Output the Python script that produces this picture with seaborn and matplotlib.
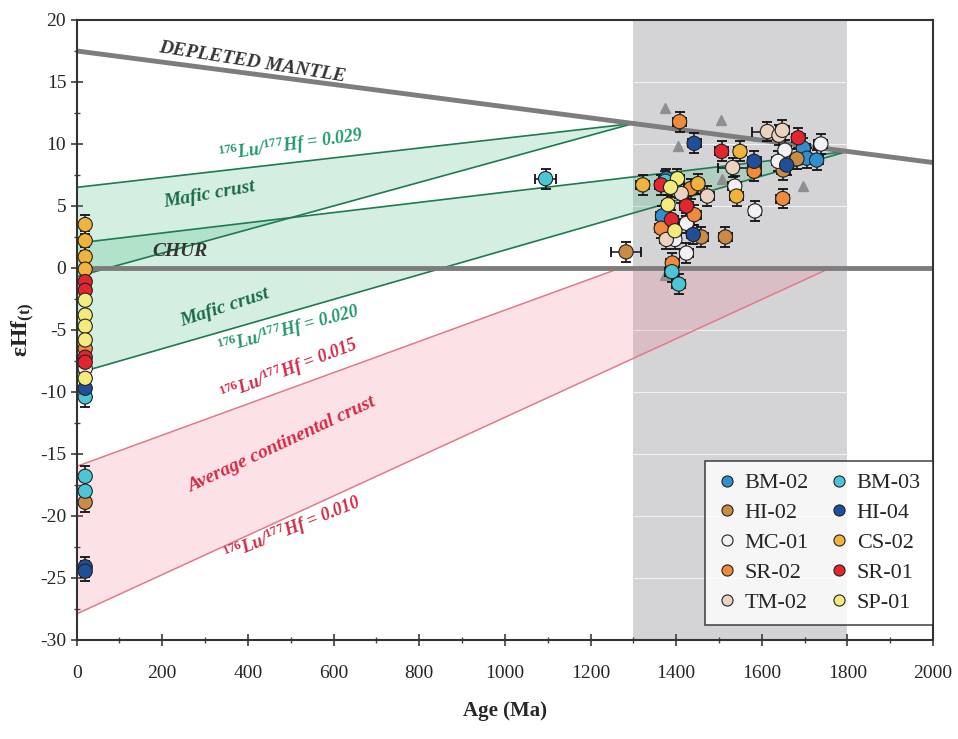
import numpy as np
import pandas as pd
import matplotlib
matplotlib.use("Agg")
import matplotlib.pyplot as plt
import seaborn as sns
from matplotlib.ticker import MultipleLocator

# zircon Lu-Hf data: (age Ma, eHf(t), age error Ma)
bm02 = [(1697, 9.65, 15), (1705, 8.85, 15), (1728, 8.7, 15), (1368, 4.2, 15), (1377, 7.2, 15)]
bm03 = [(1095, 7.2, 25), (1375, 7.0, 15), (1390, -0.3, 15), (1406, -1.3, 15),
        (20, -10.4, 2), (20, -16.8, 2), (20, -18.0, 2)]
hi02 = [(1682, 8.8, 15), (1650, 7.9, 15), (1459, 2.5, 15), (1515, 2.5, 15), (1283, 1.3, 35),
        (20, -18.9, 2)]
hi04 = [(1442, 10.05, 15), (1658, 8.3, 15), (1582, 8.6, 15), (1440, 2.7, 15),
        (20, -9.7, 2), (20, -24.1, 2), (20, -24.45, 2)]
mc01 = [(1738, 10.0, 15), (1654, 9.5, 15), (1638, 8.6, 15), (1537, 6.6, 15), (1584, 4.6, 15),
        (1424, 3.6, 15), (1397, 2.3, 15), (1424, 1.2, 15), (20, -8.1, 2)]
cs02 = [(1549, 9.4, 15), (1541, 5.8, 15), (1322, 6.7, 15), (1451, 6.8, 15),
        (20, 3.5, 2), (20, 2.2, 2), (20, 0.9, 2), (20, -0.1, 2)]
sr02 = [(1408, 11.8, 15), (1582, 7.8, 15), (1649, 5.6, 15), (1434, 6.4, 15), (1442, 4.3, 15),
        (1365, 3.2, 15), (1391, 0.4, 15), (20, -6.5, 2)]
sr01 = [(1685, 10.5, 15), (1506, 9.4, 15), (1365, 6.7, 15), (1424, 5.0, 15), (1389, 3.9, 15),
        (20, -1.1, 2), (20, -1.8, 2), (20, -7.2, 2), (20, -7.6, 2)]
tm02 = [(1613, 11.0, 35), (1640, 10.7, 15), (1648, 11.1, 15), (1532, 8.1, 35), (1412, 6.0, 15),
        (1473, 5.8, 15), (1377, 2.3, 15)]
sp01 = [(1403, 7.2, 15), (1387, 6.5, 15), (1381, 5.1, 15), (1397, 3.0, 15),
        (20, -2.6, 2), (20, -3.8, 2), (20, -4.7, 2), (20, -5.8, 2), (20, -8.9, 2)]
ehf_err = 0.8

# grey triangles (other data)
tri_age = [1373, 1504, 1404, 1506, 1696, 1373]
tri_ehf = [12.9, 11.9, 9.8, 7.2, 6.6, -0.6]

# reference evolution lines
dm_age = [0, 2000]
dm_ehf = [17.5, 8.5]
mafic_start = [1300, 1800]          # departure from depleted mantle
mafic_029_at0 = [6.5, 2.0]          # eHf at 0 Ma, Lu/Hf = 0.029
mafic_020_at0 = [-0.7, -8.5]        # eHf at 0 Ma, Lu/Hf = 0.020
cc_start = [1270, 1760]             # departure from CHUR (0.015, 0.010)
cc_at0 = [-16.0, -27.9]

samples = ["BM-02", "HI-02", "MC-01", "SR-02", "TM-02",
           "BM-03", "HI-04", "CS-02", "SR-01", "SP-01"]
sample_data = [bm02, hi02, mc01, sr02, tm02, bm03, hi04, cs02, sr01, sp01]
palette = {"BM-02": "#2f8fcf", "BM-03": "#4cc6d6", "HI-02": "#c98b45", "HI-04": "#1f4f9a",
           "MC-01": "#f5f0f5", "CS-02": "#f2b33d", "SR-02": "#f28a3c", "SR-01": "#e3252f",
           "TM-02": "#ead3c0", "SP-01": "#f3eb7c"}

rows = []
for name, pts in zip(samples, sample_data):
    for age, ehf, aerr in pts:
        rows.append({"Sample": name, "Age": age, "eHf": ehf, "AgeErr": aerr})
df = pd.DataFrame(rows)

sns.set_theme(style="ticks")
plt.rcParams['font.family'] = ['Liberation Serif', 'DejaVu Serif']
plt.rcParams['mathtext.fontset'] = 'custom'
plt.rcParams['mathtext.rm'] = 'Liberation Serif'
plt.rcParams['mathtext.bf'] = 'Liberation Serif:bold'
plt.rcParams['mathtext.it'] = 'Liberation Serif:italic'
plt.rcParams['mathtext.default'] = 'bf'
plt.rcParams['axes.unicode_minus'] = False

fig = plt.figure(figsize=(9.58, 7.39), dpi=100)
ax = fig.add_axes([0.080, 0.134, 0.894, 0.839])

# Grenville-age window
ax.axvspan(1300, 1800, color="#d4d4d6", zorder=0, lw=0)
ax.grid(axis="y", color="white", lw=0.8, alpha=0.7, zorder=0.5)

# depleted mantle values at departure ages
dm_fit = np.polyfit(dm_age, dm_ehf, 1)
green_line = "#1f7a50"
for t0, e029, e020 in zip(mafic_start, mafic_029_at0, mafic_020_at0):
    e_t0 = np.polyval(dm_fit, t0)
    ax.fill([0, t0, 0], [e029, e_t0, e020], color="#3cb878", alpha=0.22, lw=0, zorder=1)
    ax.plot([0, t0], [e029, e_t0], color=green_line, lw=1.2, zorder=2)
    ax.plot([0, t0], [e020, e_t0], color=green_line, lw=1.2, zorder=2)

ax.fill([0, cc_start[0], cc_start[1], 0], [cc_at0[0], 0, 0, cc_at0[1]],
        color="#f0607a", alpha=0.18, lw=0, zorder=1)
for t0, e0 in zip(cc_start, cc_at0):
    ax.plot([0, t0], [e0, 0], color="#e07b88", lw=1.1, zorder=2)

ax.plot(dm_age, dm_ehf, color="#7d7d7d", lw=3.5, zorder=2.5, solid_capstyle="butt")
ax.axhline(0, color="#7d7d7d", lw=3.5, zorder=2.5)

ax.plot(tri_age, tri_ehf, ls="none", marker="^", ms=7, color="#8f8f8f", zorder=2.8)

ax.errorbar(df["Age"], df["eHf"], xerr=df["AgeErr"], yerr=ehf_err, fmt="none",
            ecolor="#111111", elinewidth=1.1, capsize=3.5, capthick=1.3, zorder=3)
sns.scatterplot(data=df, x="Age", y="eHf", hue="Sample", hue_order=samples,
                palette=palette, s=105, edgecolor="#222222", linewidth=0.8,
                zorder=4, ax=ax, legend=True)

# annotations
txt = dict(fontweight="bold", style="italic", ha="center", va="center", zorder=5)
ax.text(410, 16.6, "DEPLETED MANTLE", fontsize=14, color="#333333", rotation=-9, **txt)
ax.text(500, 9.9, r"$^{176}$Lu/$^{177}$Hf = 0.029", fontsize=13, color="#219a6a", rotation=8, **txt)
ax.text(311, 5.9, "Mafic crust", fontsize=14, color="#1b6b45", rotation=10, **txt)
ax.text(241, 1.3, "CHUR", fontsize=14, color="#333333", rotation=0, **txt)
ax.text(345, -3.2, "Mafic crust", fontsize=14, color="#1b6b45", rotation=18, **txt)
ax.text(495, -5.0, r"$^{176}$Lu/$^{177}$Hf = 0.020", fontsize=13, color="#219a6a", rotation=15, **txt)
ax.text(495, -8.2, r"$^{176}$Lu/$^{177}$Hf = 0.015", fontsize=13, color="#d42a45", rotation=21, **txt)
ax.text(478, -14.3, "Average continental crust", fontsize=14, color="#d42a45", rotation=25, **txt)
ax.text(504, -21.0, r"$^{176}$Lu/$^{177}$Hf = 0.010", fontsize=13, color="#d42a45", rotation=22, **txt)

ax.set_xlim(0, 2000)
ax.set_ylim(-30, 20)
ax.xaxis.set_major_locator(MultipleLocator(200))
ax.xaxis.set_minor_locator(MultipleLocator(100))
ax.yaxis.set_major_locator(MultipleLocator(5))
ax.yaxis.set_minor_locator(MultipleLocator(2.5))
ax.tick_params(which="both", direction="inout", color="#444444", labelsize=14)
ax.tick_params(which="major", length=8)
ax.tick_params(which="minor", length=5)
ax.tick_params(axis="x", pad=14)
for sp in ax.spines.values():
    sp.set_color("#333333")
    sp.set_linewidth(1.5)
ax.set_xlabel("Age (Ma)", fontsize=15, fontweight="bold", labelpad=14)
ax.set_ylabel(r"εHf$_{(t)}$", fontsize=17, fontweight="bold", labelpad=2)

handles, labels = ax.get_legend_handles_labels()
for h in handles:
    h.set_markersize(8)
leg = ax.legend(handles, labels, ncol=2, loc="lower right", bbox_to_anchor=(1.0, 0.024),
                borderaxespad=0, fontsize=16, frameon=True, fancybox=False,
                edgecolor="#222222", handlelength=0.9, handletextpad=0.35,
                columnspacing=0.9, labelspacing=0.42, borderpad=0.55)
leg.get_frame().set_linewidth(1.2)
leg.set_zorder(6)

fig.savefig("out.png", dpi=100)
